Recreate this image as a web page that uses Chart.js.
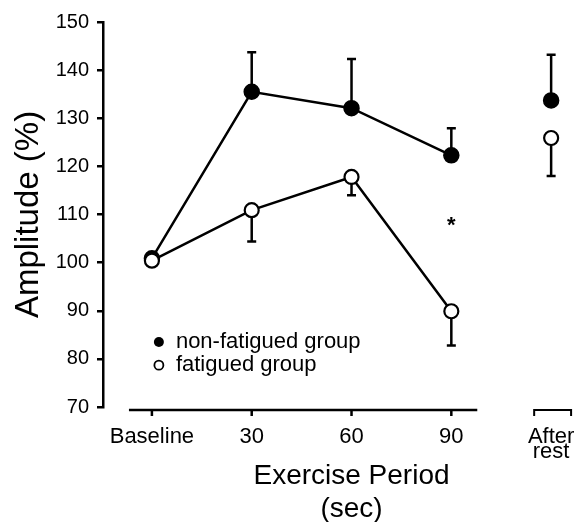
<!DOCTYPE html>
<html>
<head>
<meta charset="utf-8">
<script src="https://cdn.jsdelivr.net/npm/chart.js@4.4.1/dist/chart.umd.min.js"></script>
<style>
  html, body { margin: 0; padding: 0; background: #fff; }
  #wrap { width: 577px; height: 522px; }
</style>
</head>
<body>
<div id="wrap"><canvas id="chart"></canvas></div>
<script>
const FONT = "'Liberation Sans', Arial, Helvetica, sans-serif";

// data
const periods = ["Baseline", "30", "60", "90", ["After", "rest"]];
const periodPos = [0, 1, 2, 3, 4];
const nonFatigued = [100.9, 135.5, 132.1, 122.3, 133.7];
const nonFatiguedErr = [0, 8.2, 10.2, 5.6, 9.5]; // SE bars drawn upward
const fatigued = [100.4, 110.9, 117.8, 89.9, 125.9];
const fatiguedErr = [0, 6.5, 3.8, 7.1, 7.9]; // SE bars drawn downward
const yTicks = [70, 80, 90, 100, 110, 120, 130, 140, 150];
const starPos = 3;
const starValue = 108.9;

const toPoints = (vals) => vals.map((v, i) => ({ x: periodPos[i], y: v }));
// no line into the "After rest" point
const breakLast = (ctx) => (ctx.p1DataIndex === periodPos.length - 1 ? "rgba(0,0,0,0)" : "#000");

const figurePlugin = {
  id: "figure",
  beforeDatasetsDraw(chart) {
    const { ctx } = chart;
    const xs = chart.scales.x;
    const ys = chart.scales.y;
    ctx.save();
    ctx.strokeStyle = "#000";
    ctx.lineWidth = 2.5;
    const bar = (vals, errs, dir) => {
      vals.forEach((v, i) => {
        if (!errs[i]) return;
        const px = xs.getPixelForValue(periodPos[i]);
        const y0 = ys.getPixelForValue(v);
        const y1 = ys.getPixelForValue(v + dir * errs[i]);
        ctx.beginPath();
        ctx.moveTo(px, y0);
        ctx.lineTo(px, y1);
        ctx.moveTo(px - 4.5, y1);
        ctx.lineTo(px + 4.5, y1);
        ctx.stroke();
      });
    };
    bar(nonFatigued, nonFatiguedErr, 1);
    bar(fatigued, fatiguedErr, -1);
    ctx.restore();
  },
  afterDraw(chart) {
    const { ctx, chartArea } = chart;
    const xs = chart.scales.x;
    const ys = chart.scales.y;
    const axisY = chartArea.bottom + 3;
    ctx.save();
    ctx.strokeStyle = "#000";
    ctx.fillStyle = "#000";
    ctx.lineWidth = 2.5;

    // main x axis with ticks
    ctx.beginPath();
    ctx.moveTo(xs.getPixelForValue(-0.23), axisY);
    ctx.lineTo(xs.getPixelForValue(3.26), axisY);
    periodPos.slice(0, 4).forEach((p) => {
      const px = xs.getPixelForValue(p);
      ctx.moveTo(px, axisY);
      ctx.lineTo(px, axisY + 6);
    });
    ctx.stroke();

    // bracket over "After rest"
    const b0 = xs.getPixelForValue(3.83);
    const b1 = xs.getPixelForValue(4.2);
    ctx.lineWidth = 2;
    ctx.beginPath();
    ctx.moveTo(b0, axisY + 6);
    ctx.lineTo(b0, axisY);
    ctx.lineTo(b1, axisY);
    ctx.lineTo(b1, axisY + 6);
    ctx.stroke();

    // significance star
    ctx.font = "bold 22px " + FONT;
    ctx.textAlign = "center";
    ctx.textBaseline = "alphabetic";
    ctx.fillText("*", xs.getPixelForValue(starPos), ys.getPixelForValue(starValue) + 12.5);

    // legend
    const lx = xs.getPixelForValue(0.07);
    const ly1 = ys.getPixelForValue(83.5);
    const ly2 = ys.getPixelForValue(78.7);
    ctx.beginPath();
    ctx.arc(lx, ly1, 5, 0, Math.PI * 2);
    ctx.fill();
    ctx.beginPath();
    ctx.lineWidth = 1.8;
    ctx.arc(lx, ly2, 4.5, 0, Math.PI * 2);
    ctx.stroke();
    ctx.font = "22px " + FONT;
    ctx.textAlign = "left";
    ctx.textBaseline = "middle";
    ctx.fillText("non-fatigued group", lx + 17, ly1);
    ctx.fillText("fatigued group", lx + 17, ly2);

    // x axis title
    const tx = xs.getPixelForValue(2);
    ctx.font = "28px " + FONT;
    ctx.textAlign = "center";
    ctx.fillText("Exercise Period", tx, 476);
    ctx.fillText("(sec)", tx, 509);
    ctx.restore();
  },
};

new Chart(document.getElementById("chart").getContext("2d"), {
  type: "line",
  data: {
    datasets: [
      {
        label: "fatigued group",
        data: toPoints(fatigued),
        borderColor: "#000",
        borderWidth: 2.5,
        pointRadius: 7,
        pointBorderWidth: 2.2,
        pointBackgroundColor: "#fff",
        pointBorderColor: "#000",
        segment: { borderColor: breakLast },
      },
      {
        label: "non-fatigued group",
        data: toPoints(nonFatigued),
        borderColor: "#000",
        borderWidth: 2.5,
        pointRadius: 7.5,
        pointBorderWidth: 1.5,
        pointBackgroundColor: "#000",
        pointBorderColor: "#000",
        segment: { borderColor: breakLast },
      },
    ],
  },
  options: {
    responsive: true,
    maintainAspectRatio: false,
    animation: false,
    layout: { padding: { top: 22, right: 1, left: 0, bottom: 0 } },
    plugins: { legend: { display: false }, tooltip: { enabled: false } },
    scales: {
      x: {
        type: "linear",
        min: -0.49,
        max: 4.167,
        afterFit: (s) => { s.height = 115; },
        afterBuildTicks: (s) => { s.ticks = periodPos.map((v) => ({ value: v })); },
        // invisible tick marks only push the labels down
        grid: { display: false, drawTicks: true, tickLength: 22 },
        border: { display: false },
        ticks: {
          color: "#000",
          padding: 0,
          maxRotation: 0,
          autoSkip: false,
          font: { family: FONT, size: 22, lineHeight: 0.68 },
          callback: (v, i) => periods[i],
        },
      },
      y: {
        min: yTicks[0],
        max: yTicks[yTicks.length - 1],
        afterFit: (s) => { s.width = 103; },
        afterBuildTicks: (s) => { s.ticks = yTicks.map((v) => ({ value: v })); },
        grid: { drawOnChartArea: false, drawTicks: true, tickLength: 6, color: "#000", lineWidth: 2.5 },
        border: { display: true, color: "#000", width: 2.5 },
        ticks: { color: "#000", padding: 8, font: { family: FONT, size: 20 } },
        title: {
          display: true,
          text: "Amplitude (%)",
          color: "#000",
          padding: { top: 9, bottom: 0 },
          font: { family: FONT, size: 33 },
        },
      },
    },
  },
  plugins: [figurePlugin],
});
</script>
</body>
</html>
